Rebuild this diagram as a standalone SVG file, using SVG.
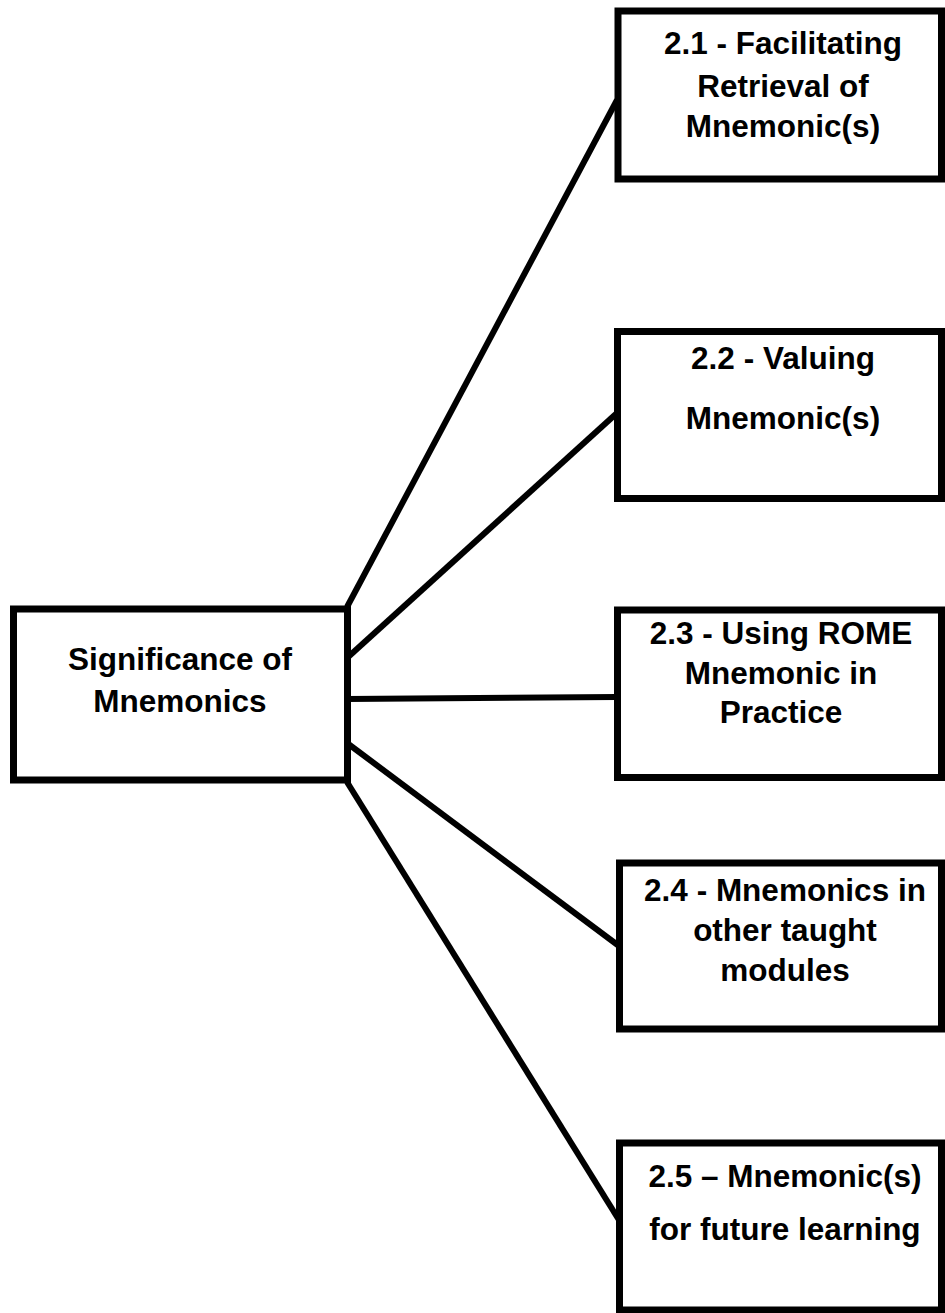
<svg xmlns="http://www.w3.org/2000/svg" width="945" height="1313" viewBox="0 0 945 1313">
  <style>
    .box { fill: #ffffff; stroke: #000000; stroke-width: 7; }
    .link { stroke: #000000; stroke-width: 6; fill: none; }
    .label { font-family: "Liberation Sans", Arial, sans-serif; font-weight: bold; font-size: 31.5px; fill: #000000; text-anchor: middle; }
  </style>
  <rect width="945" height="1313" fill="#ffffff"/>

  <!-- connectors from the central node to each sub-topic -->
  <g id="connectors">
    <line class="link" x1="347" y1="607" x2="617" y2="100"/>
    <line class="link" x1="347" y1="658" x2="617" y2="413"/>
    <line class="link" x1="347" y1="699" x2="617" y2="697"/>
    <line class="link" x1="347" y1="743" x2="619" y2="946"/>
    <line class="link" x1="347" y1="782" x2="619" y2="1220"/>
  </g>

  <g id="node-significance">
    <rect class="box" x="13.5" y="609" width="334" height="171"/>
    <text class="label" x="180" y="670">Significance of</text>
    <text class="label" x="180" y="712">Mnemonics</text>
  </g>

  <g id="node-2-1">
    <rect class="box" x="618" y="11" width="323.5" height="168"/>
    <text class="label" x="783" y="54">2.1 - Facilitating</text>
    <text class="label" x="783" y="97">Retrieval of</text>
    <text class="label" x="783" y="137">Mnemonic(s)</text>
  </g>

  <g id="node-2-2">
    <rect class="box" x="617.5" y="331.5" width="324" height="167"/>
    <text class="label" x="783" y="369">2.2 - Valuing</text>
    <text class="label" x="783" y="429">Mnemonic(s)</text>
  </g>

  <g id="node-2-3">
    <rect class="box" x="617.5" y="610" width="324" height="167.5"/>
    <text class="label" x="781" y="644">2.3 - Using ROME</text>
    <text class="label" x="781" y="684">Mnemonic in</text>
    <text class="label" x="781" y="723">Practice</text>
  </g>

  <g id="node-2-4">
    <rect class="box" x="619.5" y="863" width="322" height="166"/>
    <text class="label" x="785" y="901">2.4 - Mnemonics in</text>
    <text class="label" x="785" y="941">other taught</text>
    <text class="label" x="785" y="981">modules</text>
  </g>

  <g id="node-2-5">
    <rect class="box" x="619.5" y="1143" width="322" height="167"/>
    <text class="label" x="785" y="1187">2.5 – Mnemonic(s)</text>
    <text class="label" x="785" y="1240">for future learning</text>
  </g>
</svg>
